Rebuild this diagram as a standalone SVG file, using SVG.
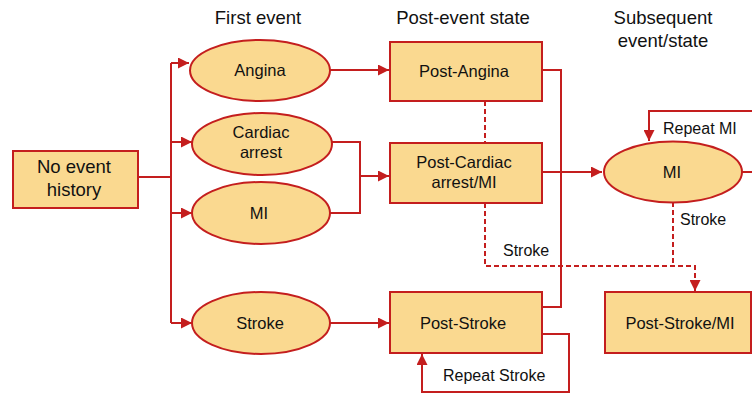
<svg xmlns="http://www.w3.org/2000/svg" width="752" height="393" viewBox="0 0 752 393">
<style>
.n{fill:#FAD990;stroke:#C41E1E;stroke-width:2}
.c{fill:none;stroke:#C41E1E;stroke-width:2}
.d{fill:none;stroke:#C41E1E;stroke-width:2;stroke-dasharray:5 3}
text{font-family:"Liberation Sans",Arial,sans-serif;fill:#111;text-anchor:middle}
.t{font-size:16.5px}
.b{font-size:18.5px}
.h{font-size:18.5px}
.l{font-size:16px;text-anchor:start}
</style>
<defs>
<marker id="a" viewBox="0 0 10 10" refX="10" refY="5" markerWidth="5.5" markerHeight="5.5" markerUnits="strokeWidth" orient="auto"><path d="M0,0L10,5L0,10z" fill="#C41E1E"/></marker>
</defs>
<g id="headers">
<text class="h" x="258" y="24">First event</text>
<text class="h" x="463" y="24">Post-event state</text>
<text class="h" x="663" y="24">Subsequent</text>
<text class="h" x="663" y="47">event/state</text>
</g>
<g id="connectors">
<path class="c" d="M138,177H171"/>
<path class="c" d="M171,63V323" />
<path class="c" d="M171,63H189" marker-end="url(#a)"/>
<path class="c" d="M171,142H192" marker-end="url(#a)"/>
<path class="c" d="M171,213H192" marker-end="url(#a)"/>
<path class="c" d="M171,323H192" marker-end="url(#a)"/>
<path class="c" d="M330,70H389" marker-end="url(#a)"/>
<path class="c" d="M332,142H360V213H330"/>
<path class="c" d="M360,176H389" marker-end="url(#a)"/>
<path class="c" d="M330,323H389" marker-end="url(#a)"/>
<path class="c" d="M542,70H561V307H542"/>
<path class="d" d="M485,101V143"/>
<path class="c" d="M542,172H602" marker-end="url(#a)"/>
<path class="c" d="M742,172H760M760,111H649V141" marker-end="url(#a)"/>
<path class="d" d="M673,202V266"/>
<path class="d" d="M485,203V266H695V291" marker-end="url(#a)"/>
<path class="c" d="M542,334H569V392H422V354" marker-end="url(#a)"/>
</g>
<g id="labels">
<text class="l" x="663" y="134">Repeat MI</text>
<text class="l" x="680" y="225">Stroke</text>
<text class="l" x="503" y="256">Stroke</text>
<text class="l" x="443" y="381">Repeat Stroke</text>
</g>
<g id="no-event"><rect class="n" x="13" y="151" width="125" height="57"/><text class="b" x="74" y="173">No event</text><text class="b" x="74" y="196">history</text></g>
<g id="angina"><ellipse class="n" cx="260" cy="70.5" rx="70" ry="30.5"/><text class="t" x="260" y="76">Angina</text></g>
<g id="cardiac-arrest"><ellipse class="n" cx="262" cy="144" rx="70" ry="31"/><text class="t" x="261" y="138">Cardiac</text><text class="t" x="261" y="158">arrest</text></g>
<g id="mi-first"><ellipse class="n" cx="261" cy="213" rx="69" ry="31"/><text class="t" x="259" y="219">MI</text></g>
<g id="stroke-first"><ellipse class="n" cx="261" cy="323" rx="69" ry="31"/><text class="t" x="260" y="329">Stroke</text></g>
<g id="post-angina"><rect class="n" x="390" y="42" width="152" height="59"/><text class="t" x="464" y="77">Post-Angina</text></g>
<g id="post-cardiac"><rect class="n" x="390" y="143" width="152" height="60"/><text class="t" x="464" y="168">Post-Cardiac</text><text class="t" x="464" y="188">arrest/MI</text></g>
<g id="post-stroke"><rect class="n" x="390" y="292" width="152" height="61"/><text class="t" x="463" y="329">Post-Stroke</text></g>
<g id="mi-subsequent"><ellipse class="n" cx="673" cy="172" rx="69" ry="30.5"/><text class="t" x="672" y="178">MI</text></g>
<g id="post-stroke-mi"><rect class="n" x="605" y="292" width="146" height="61"/><text class="t" x="680" y="329">Post-Stroke/MI</text></g>
</svg>
